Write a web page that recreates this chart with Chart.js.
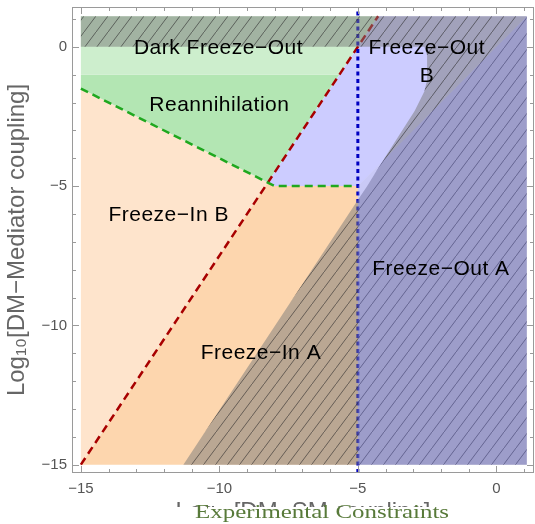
<!DOCTYPE html>
<html>
<head>
<meta charset="utf-8">
<script src="https://cdn.jsdelivr.net/npm/chart.js@4/dist/chart.umd.min.js"></script>
<style>
  html, body { margin: 0; padding: 0; background: #ffffff; }
  #wrap { width: 535px; height: 524px; }
</style>
</head>
<body>
<div id="wrap"><canvas id="c" width="535" height="524"></canvas></div>
<script>
// ---- axis ticks ----
const xTicks = [-15, -10, -5, 0];
const yTicks = [-15, -10, -5, 0];
const tickLabels = ['−15', '−10', '−5', '0'];

// ---- boundary curves, [x, y] = [log10 DM-SM coupling, log10 DM-mediator coupling] ----
const redBoundary   = [[-15, -15], [-4.267, 1.1]];
const greenBoundary = [[-15, -1.5], [-8.25, -4.875], [-8.0, -5], [-5, -5]];
const blueBoundary  = [[-5, -15.3], [-5, 1.45]];

// ---- phase regions ----
const freezeInB      = [[-15, -15], [-8.25, -4.875], [-15, -1.5]];
const freezeInA      = [[-15, -15], [-5, -15], [-5, -5], [-8.0, -5], [-8.25, -4.875]];
const reannihilation = [[-15, -1.5], [-8.25, -4.875], [-5.667, -1], [-15, -1]];
const darkFreezeOut  = [[-15, -1], [-5.667, -1], [-4.267, 1.1], [-15, 1.1]];
const freezeOutB     = [[-8.25, -4.875], [-8.0, -5], [-5, -5], [1.1, 1.1], [-4.267, 1.1]];
const freezeOutA     = [[-5, -15], [1.1, -15], [1.1, 1.1], [-5, -5]];

// ---- experimentally excluded area ----
const constraints = [[-15, 1.1], [1.1, 1.1], [1.1, -15], [-11.3, -15], [-5.0, -5.5],
  [-4.66, -5.0], [-4.2, -4.25], [-3.4, -3.0], [-2.95, -2.3], [-2.6, -1.6],
  [-2.5, -1.2], [-2.5, -0.3], [-2.6, 0], [-15, 0]];

// ---- region names ----
const regionNames = ['Dark Freeze−Out', 'Reannihilation', 'Freeze−In B', 'Freeze−In A', 'Freeze−Out A', 'Freeze−Out', 'B'];
const regionX     = [-10.03, -10.0, -11.83, -8.5, -2.0, -2.51, -2.5];
const regionY     = [0, -2.02, -6.0, -10.93, -7.92, 0, -1.0];

const toPts = arr => arr.map(p => ({ x: p[0], y: p[1] }));
const closed = arr => toPts(arr.concat([arr[0]]));

// hatch pattern for the excluded area
function hatchPattern() {
  const w = 12, h = 16;
  const pc = document.createElement('canvas');
  pc.width = w; pc.height = h;
  const g = pc.getContext('2d');
  g.fillStyle = 'rgba(120,120,120,0.5)';
  g.fillRect(0, 0, w, h);
  g.strokeStyle = 'rgba(45,45,45,0.6)';
  g.lineWidth = 1;
  for (let k = -1; k <= 1; k++) {
    g.beginPath();
    g.moveTo(0, h + k * h);
    g.lineTo(w, k * h);
    g.stroke();
  }
  return g.createPattern(pc, 'repeat');
}

const FONT = "'Liberation Sans', Arial, sans-serif";

function region(data, color, order) {
  return { data: closed(data), backgroundColor: color, borderWidth: 0, borderColor: 'transparent',
           fill: 'shape', showLine: true, pointRadius: 0, order: order };
}
function curve(data, color, dash, width, order) {
  return { data: toPts(data), borderColor: color, borderDash: dash, borderWidth: width,
           fill: false, showLine: true, pointRadius: 0, order: order, borderCapStyle: 'butt' };
}

const decor = {
  id: 'decor',
  afterDatasetsDraw(chart) {
    const ctx = chart.ctx, xs = chart.scales.x, ys = chart.scales.y;
    ctx.save();
    ctx.fillStyle = '#000';
    ctx.font = '21px ' + FONT;
    ctx.letterSpacing = '0.5px';
    ctx.textAlign = 'center';
    ctx.textBaseline = 'alphabetic';
    for (let i = 0; i < regionNames.length; i++) {
      ctx.fillText(regionNames[i], xs.getPixelForValue(regionX[i]), ys.getPixelForValue(regionY[i]) + 7.5);
    }
    ctx.restore();
  },
  afterDraw(chart) {
    const ctx = chart.ctx, a = chart.chartArea, xs = chart.scales.x, ys = chart.scales.y;
    ctx.save();
    // frame
    ctx.strokeStyle = '#9a9a9a';
    ctx.lineWidth = 1;
    ctx.strokeRect(Math.round(a.left) + 0.5, Math.round(a.top) + 0.5,
                   Math.round(a.right - a.left) - 1, Math.round(a.bottom - a.top) - 1);
    // inward ticks on all four sides
    ctx.beginPath();
    for (let v = -15; v <= 1; v++) {
      const len = (v % 5 === 0) ? 7 : 4;
      const px = Math.round(xs.getPixelForValue(v)) + 0.5;
      ctx.moveTo(px, a.bottom); ctx.lineTo(px, a.bottom - len);
      ctx.moveTo(px, a.top); ctx.lineTo(px, a.top + len);
      const py = Math.round(ys.getPixelForValue(v)) + 0.5;
      ctx.moveTo(a.left, py); ctx.lineTo(a.left + len, py);
      ctx.moveTo(a.right, py); ctx.lineTo(a.right - len, py);
    }
    ctx.stroke();
    // legend tag over the lower axis title
    ctx.fillStyle = '#ffffff';
    ctx.fillRect(150, 507, 320, 17);
    const label = 'Experimental Constraints';
    ctx.font = "19px 'Liberation Serif', 'Times New Roman', serif";
    const w = ctx.measureText(label).width;
    const sx = 254 / w;
    ctx.translate(322, 518);
    ctx.scale(sx, 1);
    ctx.fillStyle = '#587a3a';
    ctx.textAlign = 'center';
    ctx.textBaseline = 'alphabetic';
    ctx.fillText(label, 0, 0);
    ctx.restore();
  }
};

const datasets = [
  region(freezeInB, '#fee4cc', 20),
  region(freezeInA, '#fdd6ae', 19),
  region(reannihilation, '#b3e6b3', 18),
  region(darkFreezeOut, '#cdeecd', 17),
  region(freezeOutB, '#ccccff', 16),
  curve(redBoundary, '#a80000', [8, 5], 2.5, 15),
  curve(greenBoundary, '#1fa81f', [8, 5], 2.5, 14),
  curve(blueBoundary, '#0000c0', [4, 3.5], 3, 13),
  region(constraints, hatchPattern(), 12),
  region(freezeOutA, 'rgba(100,100,230,0.35)', 11)
];

new Chart(document.getElementById('c'), {
  type: 'scatter',
  data: { datasets },
  plugins: [decor],
  options: {
    responsive: false,
    animation: false,
    layout: { padding: { top: 7, right: 1, left: 0, bottom: 0 } },
    plugins: { legend: { display: false }, tooltip: { enabled: false }, filler: { propagate: false } },
    elements: { line: { tension: 0 } },
    scales: {
      x: {
        type: 'linear', min: -15.32, max: 1.36,
        grid: { display: false, drawTicks: false },
        border: { display: false },
        afterBuildTicks: s => { s.ticks = xTicks.map(v => ({ value: v })); },
        afterFit: s => { s.height = 51; s.paddingLeft = 0; s.paddingRight = 0; },
        ticks: {
          callback: v => tickLabels[xTicks.indexOf(v)],
          color: '#555', font: { family: FONT, size: 15 }, padding: 7, maxRotation: 0
        },
        title: { display: true, text: 'Log₁₀[DM−SM coupling]', color: '#666',
                 font: { family: FONT, size: 24 }, padding: { top: 0, bottom: -3 } }
      },
      y: {
        type: 'linear', min: -15.3, max: 1.43,
        grid: { display: false, drawTicks: false },
        border: { display: false },
        afterBuildTicks: s => { s.ticks = yTicks.map(v => ({ value: v })); },
        afterFit: s => { s.width = 72; s.paddingTop = 0; s.paddingBottom = 0; },
        ticks: {
          callback: v => tickLabels[yTicks.indexOf(v)],
          color: '#555', font: { family: FONT, size: 15 }, padding: 5
        },
        title: { display: true, text: 'Log₁₀[DM−Mediator coupling]', color: '#666',
                 font: { family: FONT, size: 24 }, padding: { top: 3, bottom: 0 } }
      }
    }
  }
});
</script>
</body>
</html>
